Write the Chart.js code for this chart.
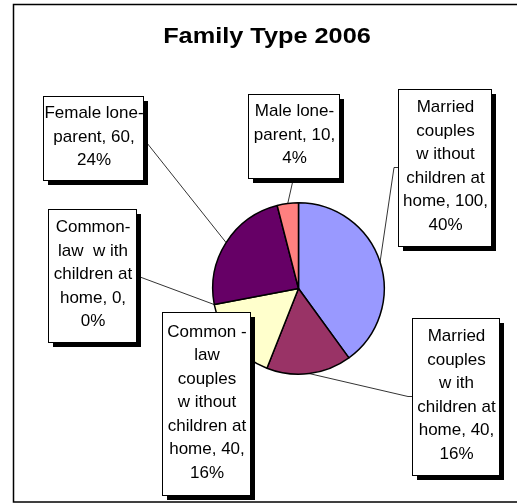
<!DOCTYPE html>
<html>
<head>
<meta charset="utf-8">
<script src="https://cdn.jsdelivr.net/npm/chart.js@4.4.1/dist/chart.umd.min.js"></script>
<style>
  html, body { margin: 0; padding: 0; background: #ffffff; }
  #c { display: block; }
</style>
</head>
<body>
<canvas id="c" width="517" height="503"></canvas>
<script>
const chartTitle = "Family Type 2006";

const categories = [
  "Married couples without children at home",
  "Married couples with children at home",
  "Common-law couples without children at home",
  "Common-law with children at home",
  "Female lone-parent",
  "Male lone-parent"
];
const familyCounts = [100, 40, 40, 0, 60, 10];
const sliceColors = ["#9999FF", "#993366", "#FFFFCC", "#CCFFFF", "#660066", "#FF8080"];

// Wrapped category text for each callout; the count and the share get appended.
const labelLines = [
  ["Married", "couples", "w ithout", "children at", "home,"],
  ["Married", "couples", "w ith", "children at", "home,"],
  ["Common -", "law", "couples", "w ithout", "children at", "home,"],
  ["Common-", "law  w ith", "children at", "home,"],
  ["Female lone-", "parent,"],
  ["Male lone-", "parent,"]
];

// Callout boxes (left, top, width, height) and the edge the leader line enters.
const calloutBoxes = [
  { x: 398, y: 89,  w: 93,  h: 157, side: "left" },
  { x: 412, y: 318, w: 87,  h: 157, side: "left" },
  { x: 162, y: 312, w: 88,  h: 183, side: "none" },
  { x: 48,  y: 209, w: 88,  h: 133, side: "right" },
  { x: 43,  y: 96,  w: 100, h: 84,  side: "right" },
  { x: 248, y: 94,  w: 91,  h: 84,  side: "bottom" }
];

const LABEL_FONT = '17px "Liberation Sans", Arial, sans-serif';
const LINE_STEP = 23.5;

function calloutText(i) {
  const total = familyCounts.reduce((a, b) => a + b, 0);
  const pct = Math.round(familyCounts[i] / total * 100);
  const lines = labelLines[i].slice();
  lines[lines.length - 1] = lines[lines.length - 1] + " " + familyCounts[i] + ",";
  lines.push(pct + "%");
  return lines;
}

const framePlugin = {
  id: "frame",
  beforeDraw(chart) {
    const ctx = chart.ctx;
    ctx.save();
    ctx.fillStyle = "#ffffff";
    ctx.fillRect(0, 0, chart.width, chart.height);
    ctx.strokeStyle = "#000000";
    ctx.lineWidth = 1.5;
    ctx.strokeRect(13.5, 4.5, 620, 497.5);
    // title, drawn slightly wide
    ctx.translate(267, 43);
    ctx.scale(1.15, 1);
    ctx.fillStyle = "#000000";
    ctx.font = 'bold 22px "Liberation Sans", Arial, sans-serif';
    ctx.textAlign = "center";
    ctx.textBaseline = "alphabetic";
    ctx.fillText(chartTitle, 0, 0);
    ctx.restore();
  }
};

const calloutPlugin = {
  id: "callouts",
  afterDatasetsDraw(chart) {
    const ctx = chart.ctx;
    const arcs = chart.getDatasetMeta(0).data;
    ctx.save();
    // leader lines from the middle of each slice's rim to its box
    ctx.strokeStyle = "#000000";
    ctx.lineWidth = 0.8;
    arcs.forEach((arc, i) => {
      const b = calloutBoxes[i];
      if (b.side === "none") return;
      const p = arc.getProps(["x", "y", "startAngle", "endAngle", "outerRadius"], true);
      const mid = (p.startAngle + p.endAngle) / 2;
      const sx = p.x + Math.cos(mid) * p.outerRadius;
      const sy = p.y + Math.sin(mid) * p.outerRadius;
      ctx.beginPath();
      ctx.moveTo(sx, sy);
      if (b.side === "left") {
        const ty = b.y + b.h / 2;
        ctx.lineTo(b.x - 4, ty);
        ctx.lineTo(b.x, ty);
      } else if (b.side === "right") {
        ctx.lineTo(b.x + b.w, b.y + b.h / 2);
      } else if (b.side === "bottom") {
        ctx.lineTo(b.x + b.w / 2, b.y + b.h);
      }
      ctx.stroke();
    });
    // boxes with drop shadow and centred text
    arcs.forEach((arc, i) => {
      const b = calloutBoxes[i];
      ctx.fillStyle = "#000000";
      ctx.fillRect(b.x + 5, b.y + 5, b.w, b.h);
      ctx.fillStyle = "#ffffff";
      ctx.fillRect(b.x, b.y, b.w, b.h);
      ctx.strokeStyle = "#000000";
      ctx.lineWidth = 1;
      ctx.strokeRect(b.x + 0.5, b.y + 0.5, b.w, b.h);
      const lines = calloutText(i);
      ctx.fillStyle = "#000000";
      ctx.font = LABEL_FONT;
      ctx.textAlign = "center";
      ctx.textBaseline = "middle";
      const cx = b.x + b.w / 2 + 1;
      const cy = b.y + b.h / 2 - 1;
      const y0 = cy - (lines.length - 1) * LINE_STEP / 2;
      lines.forEach((t, k) => ctx.fillText(t, cx, y0 + k * LINE_STEP));
    });
    ctx.restore();
  }
};

new Chart(document.getElementById("c"), {
  type: "pie",
  data: {
    labels: categories,
    datasets: [{
      data: familyCounts,
      backgroundColor: sliceColors,
      borderColor: "#000000",
      borderWidth: 1.5
    }]
  },
  options: {
    responsive: false,
    animation: false,
    events: [],
    layout: { padding: { left: 212, right: 132, top: 202, bottom: 128 } },
    plugins: {
      legend: { display: false },
      title: { display: false },
      tooltip: { enabled: false }
    }
  },
  plugins: [framePlugin, calloutPlugin]
});
</script>
</body>
</html>
